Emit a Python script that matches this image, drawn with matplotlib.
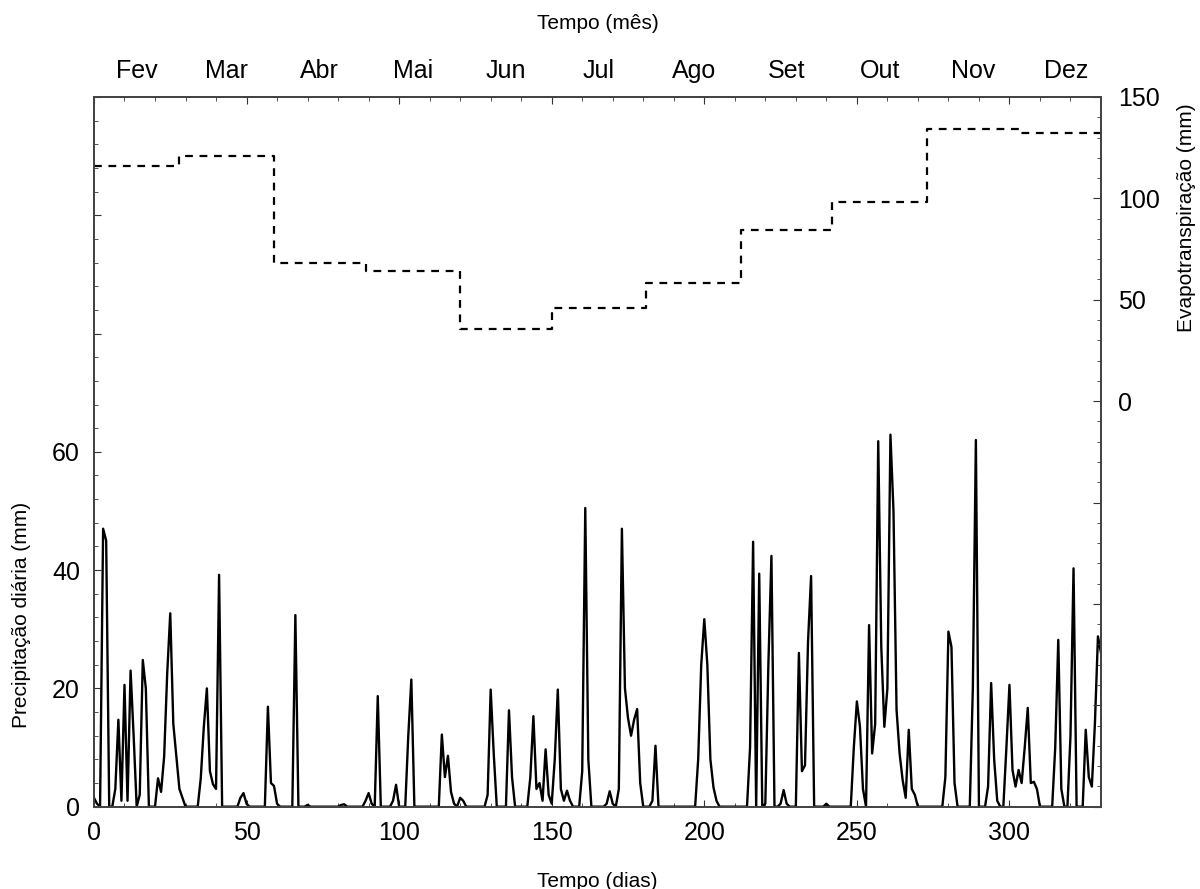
import numpy as np
import matplotlib
matplotlib.use("Agg")
import matplotlib.pyplot as plt
from matplotlib.ticker import MultipleLocator, FuncFormatter

plt.rcParams['font.family'] = ['Liberation Sans', 'DejaVu Sans']

# precipitação diária (mm) - só os dias com chuva, os outros são zero
rain_days = [0, 1, 3, 4, 7, 8, 9, 10, 11, 12, 13, 15, 16, 17,
             21, 22, 23, 24, 25, 26, 27, 28, 29,
             35, 36, 37, 38, 39, 40, 41, 48, 49, 50,
             57, 58, 59, 60, 66, 70, 81, 82, 89, 90, 91, 93,
             98, 99, 103, 104, 114, 115, 116, 117, 118, 120, 121,
             129, 130, 131, 136, 137, 143, 144, 145, 146, 147, 148, 149,
             150, 151, 152, 153, 154, 155, 156, 160, 161, 162,
             168, 169, 170, 172, 173, 174, 175, 176, 177, 178, 179,
             183, 184, 198, 199, 200, 201, 202, 203, 204,
             215, 216, 218, 220, 221, 222, 225, 226, 227,
             231, 232, 233, 234, 235, 240,
             249, 250, 251, 252, 254, 255, 256, 257, 258, 259, 260,
             261, 262, 263, 264, 265, 266, 267, 268, 269,
             279, 280, 281, 282, 288, 289, 293, 294, 295, 296,
             299, 300, 301, 302, 303, 304, 305, 306, 307, 308, 309,
             315, 316, 317, 320, 321, 325, 326, 327, 328, 329, 330]
rain_mm = [1.5, 0.5, 47, 45, 3, 14.7, 1, 20.6, 1, 23, 12, 2, 24.8, 20,
           4.8, 2.5, 8.5, 22.5, 32.7, 14, 8.5, 3, 1.5,
           4.8, 13.5, 20, 6, 3.8, 3, 39.2, 1.5, 2.3, 0.5,
           16.9, 4, 3.5, 0.5, 32.4, 0.3, 0.3, 0.4, 1, 2.3, 0.5, 18.7,
           1, 3.7, 12, 21.5, 12.2, 5, 8.6, 2.5, 0.5, 1.5, 1,
           2, 19.8, 9, 16.3, 5, 5, 15.3, 3, 4, 1, 9.7, 2,
           0.5, 8, 19.8, 3, 1, 2.7, 1, 6, 50.5, 8,
           0.5, 2.6, 0.5, 3, 47, 20, 15, 12, 14.7, 16.5, 4,
           1, 10.3, 8, 24, 31.7, 24, 8, 3.3, 1,
           10, 44.8, 39.4, 0.5, 24, 42.4, 0.5, 2.8, 0.5,
           26, 6, 7, 28, 39, 0.5,
           10, 17.8, 13.6, 3, 30.7, 9, 14, 61.8, 27, 13.5, 20,
           62.9, 50, 16.4, 9, 4.5, 1.5, 13, 3, 2,
           5, 29.6, 27, 4, 20, 62, 3.4, 20.9, 7.9, 1,
           10, 20.6, 6.2, 3.4, 6.2, 4, 10, 16.7, 4, 4.2, 3,
           10, 28.2, 3, 12, 40.3, 13, 5, 3.4, 14, 28.8, 26]
n_days = 331

# evapotranspiração mensal (mm)
month_names = ['Fev', 'Mar', 'Abr', 'Mai', 'Jun', 'Jul', 'Ago', 'Set',
               'Out', 'Nov', 'Dez']
month_start = [0, 28, 59, 89, 120, 150, 181, 212, 242, 273, 303]
month_end = 334
et_month = [116, 121, 68, 64, 35.5, 46, 58.5, 84.5, 98, 134, 132]

days = np.arange(n_days)
rain = np.zeros(n_days)
rain[rain_days] = rain_mm

fig, ax = plt.subplots(figsize=(12, 8.89), dpi=100)
fig.subplots_adjust(left=0.0783, right=0.9175, top=0.8909, bottom=0.0926)

ax.plot(days, rain, color='black', lw=1.7)
ax.set_xlim(0, n_days - 1)
ax.set_ylim(0, 120)

ax.xaxis.set_major_locator(MultipleLocator(50))
ax.xaxis.set_minor_locator(MultipleLocator(10))
ax.yaxis.set_major_locator(MultipleLocator(20))
ax.yaxis.set_minor_locator(MultipleLocator(4))
ax.yaxis.set_major_formatter(FuncFormatter(lambda v, p: '%d' % v if v <= 60 else ''))
ax.tick_params(axis='both', which='both', direction='in', labelsize=18,
               colors='#333333', labelcolor='black')
ax.tick_params(axis='x', which='both', top=True, pad=10)
ax.tick_params(axis='y', which='both', pad=10)
ax.tick_params(which='major', length=5)
ax.tick_params(which='minor', length=3)
ax.set_xlabel('Tempo (dias)', fontsize=15, labelpad=20)
ax.set_ylabel('Precipitação diária (mm)', fontsize=15)
ax.yaxis.set_label_coords(-0.063, 0.27)

# evapotranspiração no eixo da direita
ax2 = ax.twinx()
ax2.step(month_start + [n_days - 1], et_month + [et_month[-1]], where='post',
         color='black', lw=1.6, linestyle=(0, (3.5, 3)))
ax2.set_ylim(-200, 150)
ax2.yaxis.set_major_locator(MultipleLocator(50))
ax2.yaxis.set_minor_locator(MultipleLocator(10))
ax2.yaxis.set_major_formatter(FuncFormatter(lambda v, p: '%d' % v if v >= 0 else ''))
ax2.tick_params(axis='y', which='both', direction='in', labelsize=18,
                colors='#333333', labelcolor='black', pad=12)
ax2.tick_params(which='major', length=6)
ax2.tick_params(which='minor', length=3)
ax2.set_ylabel('Evapotranspiração (mm)', fontsize=15)
ax2.yaxis.set_label_coords(1.075, 0.83)

# meses no eixo de cima
month_mid = [(a + b) / 2 for a, b in zip(month_start, month_start[1:] + [month_end])]
secax = ax.secondary_xaxis('top')
secax.set_xticks(month_mid, labels=month_names)
secax.tick_params(length=0, pad=10, labelsize=18)
secax.set_xlabel('Tempo (mês)', fontsize=15, labelpad=22)

for a in (ax, ax2):
    for s in a.spines.values():
        s.set_color('#444444')
        s.set_linewidth(1.3)
secax.spines['top'].set_visible(False)

plt.savefig('out.png', dpi=100)
plt.close()
